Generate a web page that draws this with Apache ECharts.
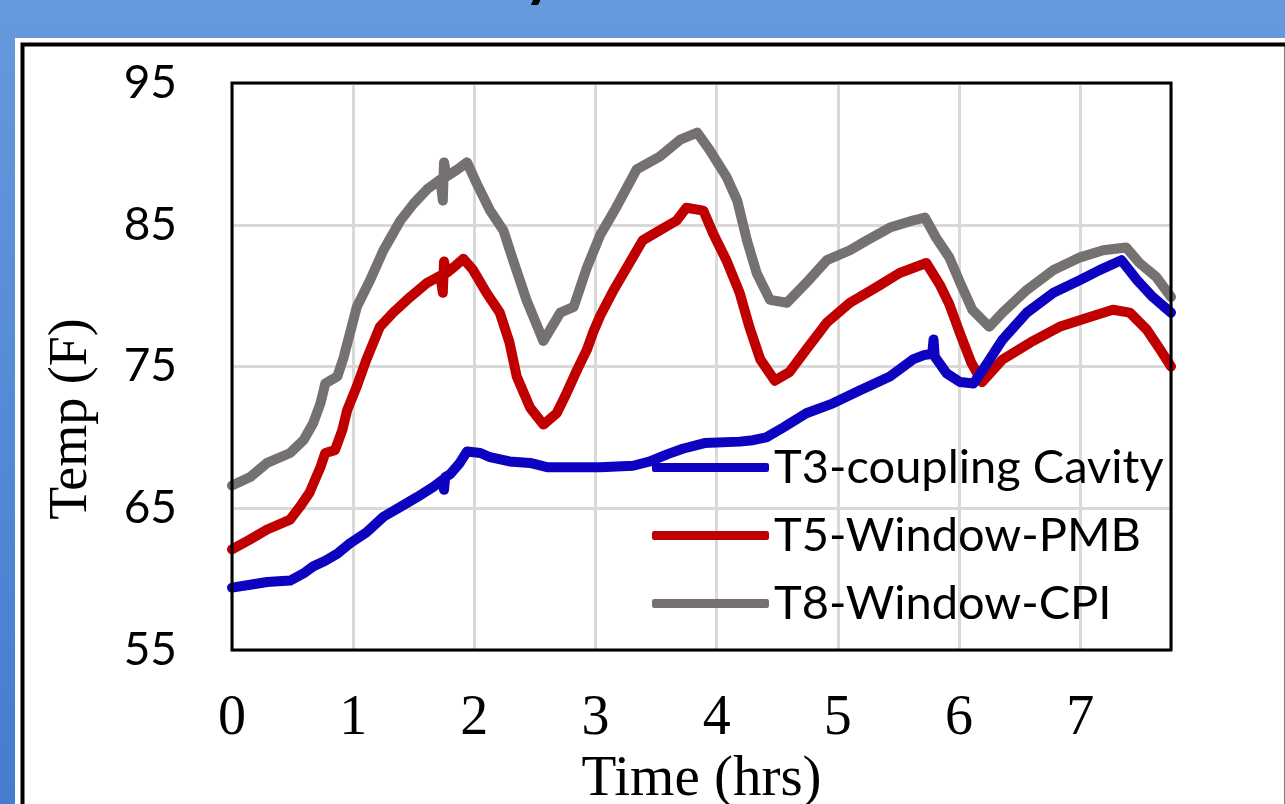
<!DOCTYPE html>
<html>
<head>
<meta charset="utf-8">
<title>Temperature log</title>
<script src="https://cdn.jsdelivr.net/npm/echarts@6/dist/echarts.min.js"></script>
<style>
  html, body { margin: 0; padding: 0; background: #fff; }
  #chart { width: 1285px; height: 804px; }
</style>
</head>
<body>
<div id="chart"></div>
<script>
// Axis ticks
const xTicks = [0, 1, 2, 3, 4, 5, 6, 7];
const yTicks = [55, 65, 75, 85, 95];
const xMax = 7.75;

// Series names
const seriesNames = ['T3-coupling Cavity', 'T5-Window-PMB', 'T8-Window-CPI'];

// T3 - coupling cavity (hours, °F)
const t3Hours = [0, 0.15, 0.29, 0.48, 0.59, 0.67, 0.77, 0.87, 0.97, 1.11, 1.25, 1.39, 1.53, 1.66, 1.74, 1.75, 1.76, 1.8, 1.88, 1.94, 2.05, 2.13, 2.29, 2.46, 2.6, 2.76, 3.04, 3.31, 3.45, 3.59, 3.72, 3.9, 4.19, 4.3, 4.41, 4.55, 4.74, 4.96, 5.18, 5.43, 5.62, 5.71, 5.78, 5.79, 5.8, 5.9, 6.01, 6.12, 6.23, 6.36, 6.56, 6.78, 7.0, 7.16, 7.34, 7.47, 7.6, 7.75];
const t3Temp  = [59.4, 59.6, 59.8, 59.9, 60.4, 60.9, 61.3, 61.8, 62.5, 63.3, 64.4, 65.1, 65.8, 66.5, 67.0, 66.3, 67.2, 67.4, 68.2, 69.0, 68.9, 68.6, 68.3, 68.2, 67.9, 67.9, 67.9, 68.0, 68.3, 68.8, 69.2, 69.6, 69.7, 69.8, 70.0, 70.7, 71.7, 72.4, 73.3, 74.3, 75.5, 75.8, 75.9, 76.9, 75.7, 74.5, 73.9, 73.8, 75.2, 76.9, 78.8, 80.2, 81.1, 81.8, 82.5, 81.1, 79.9, 78.8];

// T5 - window PMB
const t5Hours = [0, 0.15, 0.29, 0.48, 0.56, 0.64, 0.73, 0.77, 0.85, 0.91, 0.95, 1.03, 1.11, 1.22, 1.33, 1.47, 1.61, 1.72, 1.74, 1.75, 1.77, 1.83, 1.91, 1.99, 2.1, 2.21, 2.29, 2.35, 2.46, 2.57, 2.68, 2.76, 2.85, 2.93, 2.98, 3.04, 3.15, 3.26, 3.39, 3.53, 3.67, 3.75, 3.89, 3.97, 4.08, 4.19, 4.27, 4.36, 4.48, 4.6, 4.74, 4.91, 5.1, 5.32, 5.51, 5.73, 5.84, 5.92, 6.01, 6.1, 6.19, 6.36, 6.59, 6.83, 7.08, 7.27, 7.41, 7.55, 7.66, 7.75];
const t5Temp  = [62.1, 62.8, 63.5, 64.2, 65.1, 66.1, 67.9, 68.9, 69.1, 70.5, 71.9, 73.6, 75.5, 77.8, 78.8, 79.9, 80.9, 81.4, 80.2, 82.4, 81.6, 82.0, 82.6, 81.8, 80.2, 78.8, 76.7, 74.3, 72.1, 70.9, 71.7, 73.1, 74.8, 76.2, 77.4, 78.6, 80.4, 82.0, 83.9, 84.6, 85.3, 86.2, 86.0, 84.4, 82.5, 80.2, 77.8, 75.5, 74.0, 74.6, 76.2, 78.1, 79.5, 80.6, 81.6, 82.3, 80.8, 79.4, 77.3, 75.3, 73.9, 75.5, 76.7, 77.8, 78.5, 79.0, 78.8, 77.6, 76.2, 75.0];

// T8 - window CPI
const t8Hours = [0, 0.15, 0.29, 0.48, 0.59, 0.67, 0.73, 0.77, 0.87, 0.92, 1.03, 1.14, 1.25, 1.39, 1.5, 1.61, 1.72, 1.74, 1.75, 1.77, 1.86, 1.94, 2.02, 2.13, 2.24, 2.32, 2.43, 2.57, 2.71, 2.82, 2.93, 3.04, 3.17, 3.34, 3.53, 3.7, 3.84, 3.94, 4.08, 4.17, 4.25, 4.33, 4.44, 4.58, 4.74, 4.91, 5.1, 5.24, 5.43, 5.62, 5.72, 5.81, 5.92, 6.01, 6.11, 6.25, 6.36, 6.56, 6.78, 7.0, 7.19, 7.38, 7.49, 7.63, 7.75];
const t8Temp  = [66.6, 67.2, 68.2, 68.9, 69.8, 71.0, 72.4, 73.8, 74.3, 75.6, 79.2, 81.1, 83.2, 85.3, 86.5, 87.5, 88.2, 86.7, 89.4, 88.4, 88.9, 89.4, 87.9, 86.0, 84.6, 82.5, 79.7, 76.8, 78.8, 79.2, 82.0, 84.3, 86.2, 88.9, 89.8, 91.0, 91.5, 90.3, 88.4, 86.7, 83.9, 81.6, 79.7, 79.5, 80.9, 82.5, 83.2, 83.9, 84.8, 85.3, 85.5, 84.1, 82.7, 80.9, 79.0, 77.8, 78.8, 80.4, 81.8, 82.7, 83.2, 83.4, 82.3, 81.3, 79.9];

const pairs = (hours, temps) => hours.map((h, i) => [h, temps[i]]);

const serifFont = '"Liberation Serif", "Times New Roman", serif';
const sansFont = 'Lato, "Open Sans", sans-serif';
const gridColor = '#d9d9d9';

const chart = echarts.init(document.getElementById('chart'), null, { renderer: 'canvas' });

function lineSeries(name, data, color, z) {
  return {
    name: name,
    type: 'line',
    data: data,
    symbol: 'none',
    showSymbol: false,
    z: z,
    lineStyle: { color: color, width: 10, cap: 'round', join: 'round' },
    itemStyle: { color: color }
  };
}

// Page panel, clipped heading and rotated axis title
const decorations = [
  { id: 'panel', type: 'rect', z: -20, shape: { x: 15, y: 38, width: 1300, height: 800 }, style: { fill: '#ffffff' } },
  { id: 'panelBorder', type: 'rect', z: -19, shape: { x: 22.5, y: 44.5, width: 1264, height: 800 }, style: { fill: 'none', stroke: '#000', lineWidth: 4 } },
  { id: 'heading', type: 'text', z: 10, x: 524, y: -54, style: { text: 'y', font: 'bold 60px ' + sansFont, fill: '#000', textVerticalAlign: 'top' } },
  { id: 'yName', type: 'text', z: 10, x: 72, y: 419, rotation: Math.PI / 2,
    style: { text: 'Temp (F)', font: '54px ' + serifFont, fill: '#000', textAlign: 'center', textVerticalAlign: 'middle' } }
];

chart.setOption({
  animation: false,
  backgroundColor: {
    type: 'linear', x: 0, y: 0, x2: 0, y2: 1,
    colorStops: [{ offset: 0, color: '#6699dd' }, { offset: 1, color: '#447ccf' }]
  },
  graphic: decorations,
  grid: {
    left: 232, top: 83, right: 114, bottom: 154,
    outerBoundsMode: 'none',
    containLabel: false,
    show: true,
    backgroundColor: '#ffffff',
    borderWidth: 0
  },
  legend: {
    orient: 'vertical',
    left: 652, top: 444,
    padding: 0,
    itemWidth: 117, itemHeight: 9, itemGap: 21,
    icon: 'roundRect',
    textStyle: { fontFamily: sansFont, fontSize: 47, color: '#000' },
    data: seriesNames
  },
  xAxis: {
    type: 'value',
    min: xTicks[0], max: xMax, interval: 1,
    name: 'Time (hrs)',
    nameLocation: 'middle',
    nameGap: 96,
    nameTextStyle: { fontFamily: serifFont, fontSize: 57, color: '#000' },
    axisLine: { show: false },
    axisTick: { show: false },
    axisLabel: {
      margin: 41,
      fontFamily: serifFont, fontSize: 56, color: '#000',
      formatter: v => (xTicks.indexOf(v) >= 0 ? String(v) : '')
    },
    splitLine: { show: true, lineStyle: { color: gridColor, width: 3 } }
  },
  yAxis: {
    type: 'value',
    min: yTicks[0], max: yTicks[yTicks.length - 1], interval: 10,
    axisLine: { show: false },
    axisTick: { show: false },
    axisLabel: {
      margin: 55,
      fontFamily: sansFont, fontSize: 46, color: '#000',
      formatter: v => (yTicks.indexOf(v) >= 0 ? String(v) : '')
    },
    splitLine: { show: true, lineStyle: { color: gridColor, width: 3 } }
  },
  series: [
    lineSeries(seriesNames[0], pairs(t3Hours, t3Temp), '#0c02bf', 5),
    lineSeries(seriesNames[1], pairs(t5Hours, t5Temp), '#c00000', 4),
    lineSeries(seriesNames[2], pairs(t8Hours, t8Temp), '#767171', 3)
  ]
});

// Black frame round the plot area, placed from the axis extents
const topLeft = chart.convertToPixel({ gridIndex: 0 }, [xTicks[0], yTicks[yTicks.length - 1]]);
const bottomRight = chart.convertToPixel({ gridIndex: 0 }, [xMax, yTicks[0]]);
chart.setOption({
  graphic: decorations.concat([{
    id: 'plotFrame', type: 'rect', z: 20, silent: true,
    shape: { x: topLeft[0], y: topLeft[1], width: bottomRight[0] - topLeft[0], height: bottomRight[1] - topLeft[1] },
    style: { fill: 'none', stroke: '#000', lineWidth: 3 }
  }])
});
</script>
</body>
</html>
